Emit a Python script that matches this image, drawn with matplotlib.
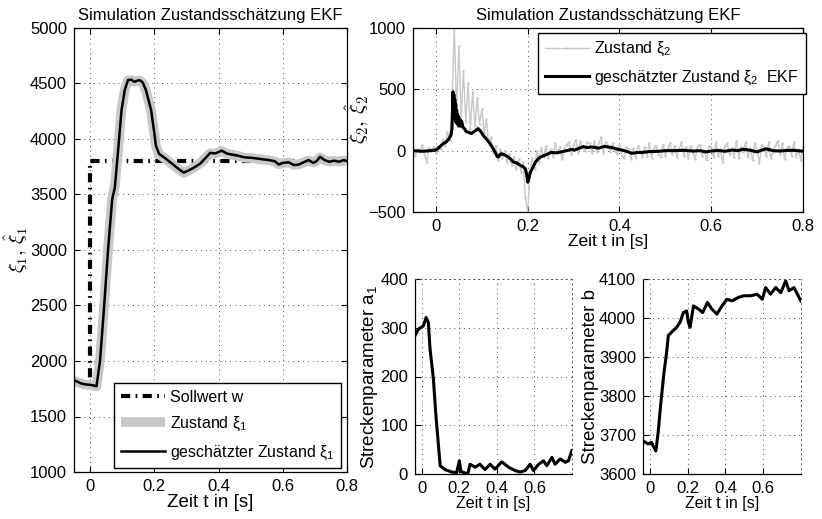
import numpy as np
import matplotlib
matplotlib.use("Agg")
import matplotlib.pyplot as plt

plt.rcParams['font.family'] = ['Liberation Sans', 'DejaVu Sans']
plt.rcParams['mathtext.fontset'] = 'custom'
plt.rcParams['mathtext.rm'] = 'Liberation Sans'
plt.rcParams['mathtext.it'] = 'Liberation Sans:italic'

# ---------------- data ----------------
# left panel: state xi_1
t1 = [-0.05, -0.04, -0.03, -0.02, -0.01, 0.0, 0.01, 0.02, 0.031, 0.044, 0.056, 0.069, 0.077,
      0.088, 0.098, 0.108, 0.118, 0.128, 0.138, 0.146, 0.154, 0.164, 0.174, 0.19, 0.2, 0.205,
      0.215, 0.236, 0.262, 0.28, 0.292, 0.308, 0.325, 0.343, 0.36, 0.374, 0.39, 0.41, 0.425,
      0.44, 0.46, 0.48, 0.505, 0.53, 0.557, 0.575, 0.588, 0.6, 0.618, 0.635, 0.65, 0.665, 0.68,
      0.695, 0.705, 0.716, 0.73, 0.745, 0.76, 0.775, 0.79, 0.8]
xi1_est = [1825, 1815, 1800, 1792, 1788, 1785, 1780, 1772, 2000, 2500, 3000, 3460, 3560,
           3920, 4262, 4440, 4530, 4535, 4515, 4525, 4530, 4510, 4440, 4262, 4055, 3940,
           3866, 3822, 3762, 3720, 3697, 3718, 3745, 3778, 3830, 3875, 3870, 3895, 3870,
           3860, 3850, 3835, 3830, 3820, 3810, 3800, 3770, 3785, 3790, 3765, 3770, 3790, 3810,
           3785, 3800, 3840, 3810, 3795, 3805, 3795, 3810, 3800]
xi1_true = [1822, 1812, 1802, 1790, 1786, 1783, 1778, 1770, 2010, 2510, 3010, 3470, 3570,
            3930, 4270, 4445, 4528, 4530, 4518, 4522, 4528, 4505, 4435, 4255, 4050, 3935,
            3862, 3818, 3758, 3718, 3695, 3716, 3748, 3782, 3832, 3872, 3868, 3892, 3868,
            3858, 3848, 3832, 3828, 3818, 3808, 3798, 3772, 3783, 3788, 3768, 3772, 3788, 3806,
            3788, 3802, 3835, 3808, 3797, 3803, 3797, 3806, 3800]
t_w = [-0.05, 0.0, 0.0, 0.8]
w = [1800, 1800, 3800, 3800]

# top-right panel: state xi_2 (true, noisy) sampled every 5 ms from -0.05 to 0.8
xi2_true = [30, -40, 10, -10, 50, -30, -90, 25, 5, 30,
            -15, 40, 10, 90, 40, 150, 80, 400, 1000, 320,
            850, 280, 650, 230, 550, 180, 480, 200, 430, 220,
            340, 140, 260, 60, 110, -20, 40, -80, 10, -60,
            0, -90, -30, -120, -50, -150, -70, -170, -90, -380,
            -500, -180, -60, -150, 0, -90, 20, -50, 40, -60,
            10, -50, 60, -20, 30, -70, 20, 50, 70, -30,
            50, 90, -20, 80, 20, 0, 70, 60, -20, 80,
            -10, 60, 110, -20, 70, 40, -10, 60, 0, -30,
            50, -40, -60, 30, 10, -70, 20, -60, 40, 0,
            -50, 30, -40, 60, -60, 20, 40, -30, -50, 50,
            -40, 20, 60, -30, 40, -50, 10, 70, -40, 30,
            -60, 40, -20, -70, 30, 50, -40, 0, -80, 40,
            30, -50, 70, -40, 10, -90, 40, 60, -30, 20,
            -50, 80, -60, 30, -10, 70, -50, 20, -80, 60,
            0, -100, 50, 30, -40, 70, -60, -10, 40, 80,
            -30, 60, -70, 20, 40, -40, 70, -50, 10, -80,
            30]
t2 = np.linspace(-0.05, 0.8, len(xi2_true))

t2e = [-0.05, -0.03, -0.01, 0.0, 0.008, 0.015, 0.022, 0.029, 0.033, 0.035, 0.036, 0.037, 0.038,
       0.039, 0.040, 0.041, 0.042, 0.043, 0.044, 0.045, 0.046, 0.047, 0.048, 0.049, 0.050, 0.052,
       0.054, 0.056, 0.059, 0.062, 0.066, 0.071, 0.077, 0.085, 0.092, 0.097, 0.103, 0.11, 0.118,
       0.124, 0.129, 0.133, 0.136, 0.14, 0.143, 0.15, 0.158, 0.163, 0.169, 0.176, 0.184, 0.19,
       0.195, 0.198, 0.2, 0.203, 0.206, 0.212, 0.217, 0.222, 0.228, 0.235, 0.242, 0.251, 0.262,
       0.273, 0.285, 0.295, 0.302, 0.312, 0.321, 0.33, 0.338, 0.346, 0.355, 0.362, 0.368, 0.375,
       0.383, 0.395, 0.405, 0.415, 0.427, 0.438, 0.45, 0.465, 0.486, 0.5, 0.52, 0.54, 0.56, 0.575,
       0.589, 0.6, 0.615, 0.63, 0.645, 0.658, 0.67, 0.685, 0.7, 0.71, 0.72, 0.735, 0.75, 0.765,
       0.78, 0.8]
xi2_est = [0, -5, 0, 5, 30, 55, 70, 100, 130, 180, 300, 480, 350,
           460, 280, 420, 250, 380, 230, 330, 220, 300, 210, 280, 200, 260,
           200, 240, 190, 180, 155, 150, 140, 160, 180, 160, 125, 95, 57,
           20, -11, -45, -52, -30, -25, -35, -52, -70, -93, -100, -120, -130,
           -148, -200, -257, -220, -175, -130, -93, -70, -52, -40, -30, -14, -18,
           -10, 0, 10, 5, 20, 33, 25, 30, 27, 20, 30, 35, 30,
           25, 12, 5, -5, -22, -15, -14, -8, -5, 0, 0, 3, -3, 0,
           -10, -3, 2, -5, 5, 0, 12, 3, -10, 5, 15, 0, -3, 2,
           3, -5]

# bottom-left: Streckenparameter a1
ta = [-0.036, -0.018, 0.009, 0.023, 0.035, 0.044, 0.062, 0.074, 0.089, 0.098, 0.124, 0.16,
      0.186, 0.2, 0.209, 0.231, 0.245, 0.257, 0.284, 0.31, 0.337, 0.364, 0.39, 0.426, 0.462,
      0.497, 0.524, 0.55, 0.577, 0.595, 0.622, 0.648, 0.666, 0.693, 0.71, 0.737, 0.764, 0.781,
      0.799]
a1 = [284, 297, 304, 321, 311, 257, 195, 127, 58, 17, 9, 4,
      3, 27, 5, 2, 0, 20, 14, 20, 9, 20, 10, 25, 14,
      7, 4, 7, 20, 7, 20, 27, 17, 34, 20, 31, 24, 27,
      48]

# bottom-right: Streckenparameter b
tb = [-0.036, -0.009, 0.009, 0.018, 0.032, 0.044, 0.057, 0.075, 0.089, 0.098, 0.124, 0.142,
      0.16, 0.178, 0.195, 0.204, 0.213, 0.231, 0.258, 0.28, 0.305, 0.328, 0.355, 0.382, 0.408,
      0.435, 0.47, 0.497, 0.533, 0.568, 0.595, 0.613, 0.639, 0.666, 0.693, 0.719, 0.737, 0.763,
      0.781, 0.799]
b = [3685, 3677, 3681, 3672, 3659, 3706, 3775, 3860, 3912, 3955, 3968, 3976,
     3989, 4014, 4018, 3989, 3976, 4031, 4023, 4014, 4040, 4023, 4010, 4031, 4048,
     4044, 4053, 4057, 4057, 4061, 4048, 4078, 4061, 4078, 4065, 4095, 4070, 4078,
     4061, 4044]

# ---------------- figure ----------------
W, H = 822, 519
fig = plt.figure(figsize=(W / 100, H / 100), dpi=100)


def ax_px(x0, x1, ytop, ybot):
    return fig.add_axes([x0 / W, (H - ybot) / H, (x1 - x0) / W, (ybot - ytop) / H])


GRID = dict(color='0.3', linewidth=0.7, linestyle=(0, (1, 4)))
TICKFS = 12


def style(ax, box=True):
    ax.grid(True, **GRID)
    ax.tick_params(direction='in', length=4, width=0.8, labelsize=TICKFS,
                   top=box, right=box, pad=5)
    for s in ax.spines.values():
        s.set_linewidth(0.9)
    if not box:
        for s in ('top', 'right'):
            ax.spines[s].set_linestyle((0, (1, 4)))
            ax.spines[s].set_color('0.3')
            ax.spines[s].set_linewidth(0.7)


# left panel
ax1 = ax_px(74, 347, 28, 472)
l_w, = ax1.plot(t_w, w, color='black', lw=3.0, dashes=(2.2, 1.3, 0.4, 1.3),
                label='Sollwert w')
l_t, = ax1.plot(t1, xi1_true, color='#c8c8c8', lw=7, solid_capstyle='butt',
                label='Zustand ξ$_1$')
l_e, = ax1.plot(t1, xi1_est, color='black', lw=1.8, label='geschätzter Zustand ξ$_1$')
ax1.set_xlim(-0.05, 0.8)
ax1.set_ylim(1000, 5000)
ax1.set_xticks([0, 0.2, 0.4, 0.6, 0.8])
ax1.set_xticklabels(['0', '0.2', '0.4', '0.6', '0.8'])
ax1.set_yticks(np.arange(1000, 5001, 500))
style(ax1)
ax1.set_title('Simulation Zustandsschätzung EKF', fontsize=12, pad=6)
ax1.set_xlabel('Zeit t in [s]', fontsize=13.5, labelpad=0)
ax1.set_ylabel(r'$\xi_1,\,\hat{\xi}_1$', fontsize=14.5, math_fontfamily='cm', labelpad=0)
leg1 = ax1.legend(handles=[l_w, l_t, l_e], loc='lower right',
                  bbox_to_anchor=(0.978, 0.009), borderaxespad=0, fontsize=11.5,
                  fancybox=False, edgecolor='black', framealpha=1, handlelength=2.8,
                  labelspacing=0.65, handletextpad=0.3, borderpad=0.4)
leg1.get_frame().set_linewidth(1.0)

# top-right panel
ax2 = ax_px(413, 803, 28, 212)
g, = ax2.plot(t2, xi2_true, color='#c8c8c8', lw=1.0, marker='.', ms=1.5,
              label='Zustand ξ$_2$')
e, = ax2.plot(t2e, xi2_est, color='black', lw=2.2, label='geschätzter Zustand ξ$_2$  EKF')
ax2.set_xlim(-0.05, 0.8)
ax2.set_ylim(-500, 1000)
ax2.set_xticks([0, 0.2, 0.4, 0.6, 0.8])
ax2.set_xticklabels(['0', '0.2', '0.4', '0.6', '0.8'])
ax2.set_yticks([-500, 0, 500, 1000])
style(ax2)
ax2.set_title('Simulation Zustandsschätzung EKF', fontsize=12, pad=6)
ax2.set_xlabel('Zeit t in [s]', fontsize=12.5, labelpad=0)
ax2.set_ylabel(r'$\xi_2,\,\hat{\xi}_2$', fontsize=15, math_fontfamily='cm', labelpad=-2)
leg2 = ax2.legend(handles=[g, e], loc='upper right', bbox_to_anchor=(1.008, 0.973),
                  borderaxespad=0, fontsize=11.5, fancybox=False, edgecolor='black',
                  framealpha=1, handlelength=2.8, labelspacing=0.65, handletextpad=0.3,
                  borderpad=0.45)
leg2.get_frame().set_linewidth(1.0)

# bottom-left
ax3 = ax_px(415, 572, 279, 474)
ax3.plot(ta, a1, color='black', lw=2.2)
ax3.set_xlim(-0.036, 0.8)
ax3.set_ylim(0, 400)
ax3.set_xticks([0, 0.2, 0.4, 0.6])
ax3.set_xticklabels(['0', '0.2', '0.4', '0.6'])
ax3.set_yticks([0, 100, 200, 300, 400])
style(ax3, box=False)
ax3.set_xlabel('Zeit t in [s]', fontsize=11.5, labelpad=0)
ax3.set_ylabel('Streckenparameter a$_1$', fontsize=13.5, labelpad=0)

# bottom-right
ax4 = ax_px(643, 801, 279, 474)
ax4.plot(tb, b, color='black', lw=2.2)
ax4.set_xlim(-0.036, 0.8)
ax4.set_ylim(3600, 4100)
ax4.set_xticks([0, 0.2, 0.4, 0.6])
ax4.set_xticklabels(['0', '0.2', '0.4', '0.6'])
ax4.set_yticks(np.arange(3600, 4101, 100))
style(ax4, box=False)
ax4.set_xlabel('Zeit t in [s]', fontsize=11.5, labelpad=0)
ax4.set_ylabel('Streckenparameter b', fontsize=13.5, labelpad=0)

fig.savefig('out.png', dpi=100)
